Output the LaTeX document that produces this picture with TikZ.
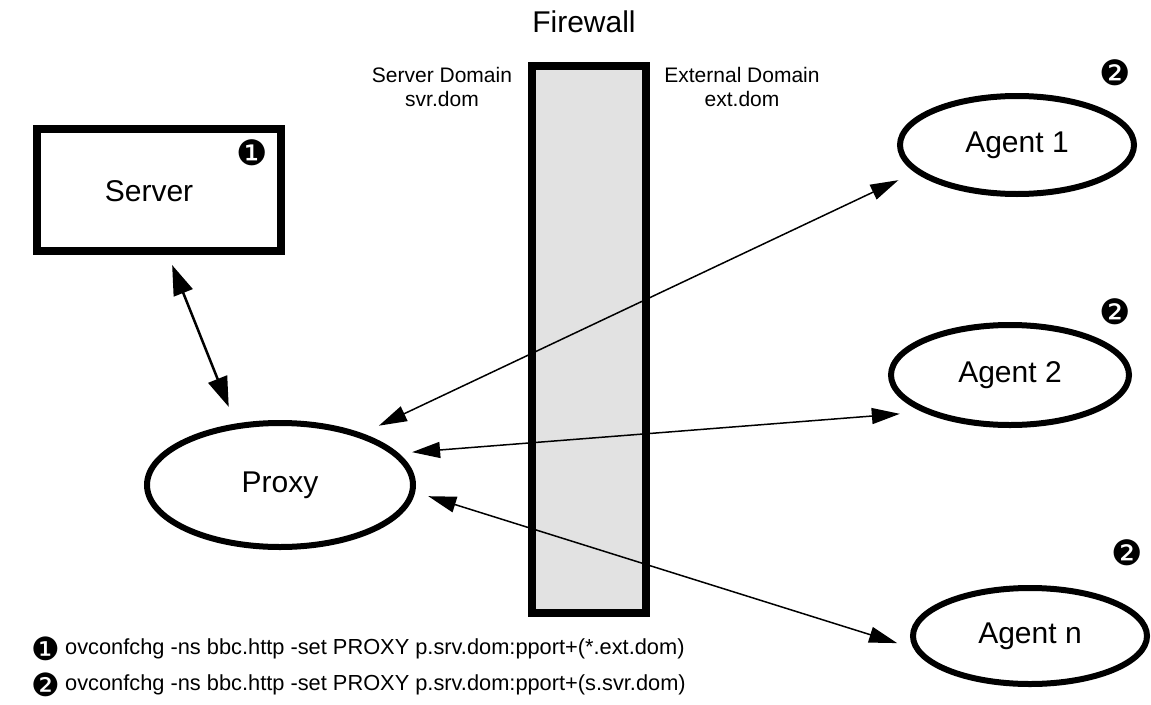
\documentclass[tikz,border=0pt]{standalone}
\usepackage{fontspec}
\setmainfont{Liberation Sans}
\newfontfamily\dejavu{DejaVu Sans}
\usetikzlibrary{shapes.geometric,arrows.meta}
\definecolor{fwgray}{HTML}{E2E2E2}
\begin{document}
\begin{tikzpicture}[x=1pt,y=-1pt,
  bigtxt/.style={font=\fontsize{30}{36}\selectfont},
  domtxt/.style={font=\fontsize{21}{24}\selectfont, align=center, inner sep=0pt},
  legtxt/.style={font=\fontsize{21.8}{24}\selectfont, anchor=west, inner sep=0pt},
  serverbox/.style={draw, line width=8pt, minimum width=244pt, minimum height=122pt, inner sep=0pt},
  agent/.style={ellipse, draw, line width=6pt, inner sep=0pt, bigtxt},
  fwbox/.style={draw, line width=8pt, fill=fwgray, minimum width=114pt, minimum height=547pt, inner sep=0pt},
  badge/.style={font=\dejavu\fontsize{35}{40}\selectfont, inner sep=0pt},
  legbadge/.style={font=\dejavu\fontsize{32}{36}\selectfont, inner sep=0pt},
  link/.style={{Triangle[length=28pt,width=16pt]}-{Triangle[length=28pt,width=16pt]}, line width=1.5pt},
  thicklink/.style={{Triangle[length=30pt,width=20pt]}-{Triangle[length=30pt,width=20pt]}, line width=2.5pt}
]
\useasboundingbox (0,0) rectangle (1151,704);

% firewall
\node[fwbox] (firewall) at (589,339.5) {};
\node[bigtxt, inner sep=0pt] (fwlabel) at (584,22) {Firewall};
\node[domtxt] (svrdom) at (442,87) {Server Domain\\svr.dom};
\node[domtxt] (extdom) at (742,87) {External Domain\\ext.dom};

% nodes
\node[serverbox, label={[bigtxt, xshift=-10pt, yshift=-1pt]center:Server}] (server) at (159,190) {};
\node[agent, minimum width=266pt, minimum height=124pt] (proxy) at (280,485) {Proxy};
\node[agent, minimum width=234pt, minimum height=98pt] (agent1) at (1017,145) {Agent 1};
\node[agent, minimum width=238pt, minimum height=100pt] (agent2) at (1010,375) {Agent 2};
\node[agent, minimum width=234pt, minimum height=96pt] (agentn) at (1030,636) {Agent n};

% badges
\node[badge] (bs) at (252,153) {❶};
\node[badge] (b1) at (1115,73) {❷};
\node[badge] (b2) at (1115,312) {❷};
\node[badge] (bn) at (1127,553) {❷};

% connectors
\draw[thicklink, shorten <=10.8pt, shorten >=18pt] (server.-82) -- (proxy.126.7);
\draw[link, shorten <=18pt, shorten >=18.3pt] (proxy.32.9) -- (agent1.-165.1);
\draw[link, shorten <=13.5pt, shorten >=23pt] (proxy.15.1) -- (agent2.-157.9);
\draw[link, shorten <=13.7pt, shorten >=17.2pt] (proxy.-3.35) -- (agentn.-174.1);

% legend
\node[legbadge] (lb1) at (46,649) {❶};
\node[legtxt] (leg1) at (65,649) {ovconfchg -ns bbc.http -set PROXY p.srv.dom:pport+(*.ext.dom)};
\node[legbadge] (lb2) at (46,685) {❷};
\node[legtxt] (leg2) at (65,685) {ovconfchg -ns bbc.http -set PROXY p.srv.dom:pport+(s.svr.dom)};
\end{tikzpicture}
\end{document}
